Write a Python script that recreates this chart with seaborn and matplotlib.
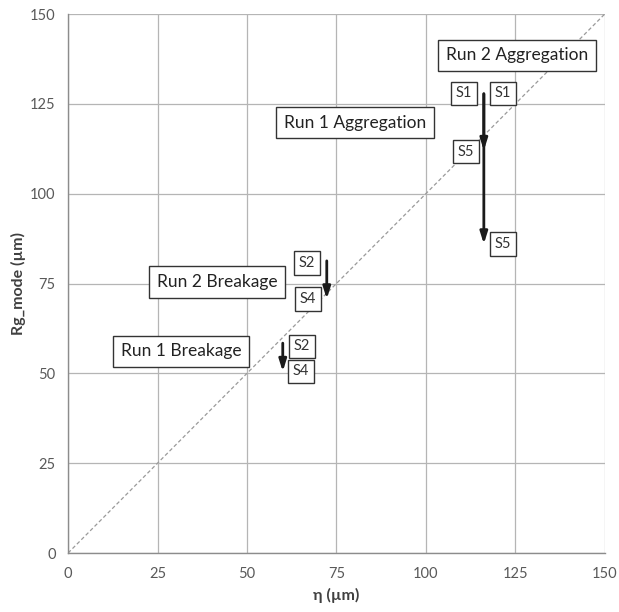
import matplotlib
matplotlib.use("Agg")
import matplotlib.pyplot as plt
import seaborn as sns
import pandas as pd

sns.set_style("whitegrid")
plt.rcParams["font.family"] = ["Lato", "DejaVu Sans"]

# Parity line (eta == Rg_mode)
parity_x = [0, 150]
parity_y = [0, 150]

# Shift arrows: x position, starting and ending Rg_mode
arrow_x = [116.2, 116.2, 72.3, 60.0]
arrow_y0 = [127.8, 127.8, 81.3, 58.4]
arrow_y1 = [112.0, 86.0, 70.7, 50.5]

# Sample tags
tag_text = ["S1", "S1", "S5", "S5", "S2", "S4", "S2", "S4"]
tag_x = [110.6, 121.5, 111.2, 121.5, 66.8, 67.0, 65.4, 65.1]
tag_y = [127.9, 127.9, 111.7, 86.0, 80.7, 70.7, 57.5, 50.6]

# Run descriptions
run_text = ["Run 2 Aggregation", "Run 1 Aggregation", "Run 2 Breakage", "Run 1 Breakage"]
run_x = [125.4, 80.2, 41.6, 31.6]
run_y = [138.5, 119.8, 75.4, 56.1]

ticks = [0, 25, 50, 75, 100, 125, 150]

fig = plt.figure(figsize=(6.19, 6.12), dpi=100)
ax = fig.add_axes([0.110, 0.0964, 0.867, 0.8807])

parity = pd.DataFrame({"eta": parity_x, "rg": parity_y})
sns.lineplot(data=parity, x="eta", y="rg", ax=ax, color="#9a9a9a",
             linewidth=0.9, linestyle=(0, (3, 2)), zorder=2)

for x, y0, y1 in zip(arrow_x, arrow_y0, arrow_y1):
    ax.annotate("", xy=(x, y1), xytext=(x, y0),
                arrowprops=dict(arrowstyle="-|>,head_length=0.7,head_width=0.22",
                                color="#1a1a1a", lw=2.0, shrinkA=0, shrinkB=0),
                zorder=4)

for t, x, y in zip(tag_text, tag_x, tag_y):
    ax.text(x, y, t, ha="center", va="center", fontsize=10.5, color="#333333",
            bbox=dict(boxstyle="square,pad=0.32", fc="white", ec="#333333", lw=1.0),
            zorder=5)

for t, x, y in zip(run_text, run_x, run_y):
    ax.text(x, y, t, ha="center", va="center", fontsize=12.5, color="#222222",
            bbox=dict(boxstyle="square,pad=0.45", fc="white", ec="#333333", lw=1.0),
            zorder=5)

ax.set_xlim(0, 150)
ax.set_ylim(0, 150)
ax.set_xticks(ticks)
ax.set_yticks(ticks)
ax.set_xticklabels([str(t) for t in ticks])
ax.set_yticklabels([str(t) for t in ticks])
ax.tick_params(axis="both", labelsize=10.5, colors="#595959")
ax.tick_params(axis="y", color="#a0a0a0", length=5, width=0.8, pad=4)
ax.tick_params(axis="x", length=0, pad=10)
ax.grid(True, color="#b5b5b5", linewidth=0.9)
for side in ["top", "right"]:
    ax.spines[side].set_visible(False)
for side in ["left", "bottom"]:
    ax.spines[side].set_color("#8c8c8c")
    ax.spines[side].set_linewidth(1.0)

ax.set_xlabel("η (µm)", fontsize=11.5, fontweight="bold", color="#404040", labelpad=5)
ax.set_ylabel("Rg_mode (µm)", fontsize=11.5, fontweight="bold", color="#404040", labelpad=3)

fig.savefig("out.png", dpi=100, facecolor="white")
